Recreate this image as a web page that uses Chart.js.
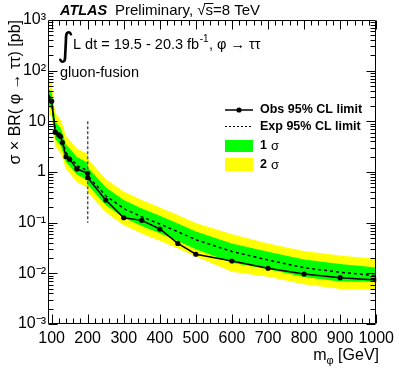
<!DOCTYPE html>
<html><head><meta charset="utf-8">
<script src="https://cdn.jsdelivr.net/npm/chart.js@4.4.1/dist/chart.umd.min.js"></script>
<style>html,body{margin:0;padding:0;background:#fff}canvas{display:block}</style>
</head><body>
<canvas id="c" width="399" height="387"></canvas>
<script>
// ---- data ----
const mass     = [90, 100, 110, 120, 125, 130, 140, 150, 170, 200, 200, 250, 300, 350, 400, 450, 500, 600, 700, 800, 900, 1000];
const observed = [29.8, 25, 6.1, 5.4, 5.0, 3.8, 2.0, 1.78, 1.15, 0.94, 0.77, 0.28, 0.125, 0.111, 0.075, 0.039, 0.0238, 0.0175, 0.0126, 0.0097, 0.0082, 0.0074];
const expected = [31, 26, 6.8, 5.6, 5.0, 4.0, 2.4, 2.0, 1.35, 1.05, 0.85, 0.34, 0.19, 0.13, 0.094, 0.066, 0.046, 0.027, 0.0183, 0.0129, 0.0105, 0.009];
const plus1    = [45.3, 38.0, 9.93, 8.18, 7.3, 5.84, 3.5, 2.92, 1.97, 1.53, 1.24, 0.50, 0.28, 0.19, 0.137, 0.096, 0.067, 0.039, 0.0267, 0.0188, 0.0153, 0.0131];
const minus1   = [20.5, 17.2, 4.49, 3.70, 3.3, 2.64, 1.58, 1.32, 0.89, 0.69, 0.56, 0.224, 0.125, 0.086, 0.062, 0.0436, 0.030, 0.0162, 0.0121, 0.0085, 0.0069, 0.0068];
const plus2    = [66.7, 55.9, 14.6, 12.0, 10.75, 8.6, 5.16, 4.3, 2.9, 2.26, 1.83, 0.73, 0.41, 0.28, 0.20, 0.142, 0.099, 0.059, 0.039, 0.0277, 0.0226, 0.0192];
const minus2   = [14.6, 12.2, 3.20, 2.63, 2.35, 1.88, 1.13, 0.94, 0.635, 0.49, 0.40, 0.16, 0.089, 0.061, 0.044, 0.031, 0.0216, 0.0108, 0.0086, 0.0061, 0.0049, 0.0048];
const separatorMass  = [200, 200];
const separatorRange = [10, 0.1];
const xTickValues = [100, 200, 300, 400, 500, 600, 700, 800, 900, 1000];
const xTickLabels = ['100', '200', '300', '400', '500', '600', '700', '800', '900', '1000'];
const yTickValues = [1e-3, 1e-2, 1e-1, 1, 10, 100, 1000];
const yTickLabels = ['10\u207B\u00B3', '10\u207B\u00B2', '10\u207B\u00B9', '1', '10', '10\u00B2', '10\u00B3'];

const FONT = "'Liberation Sans', Arial, Helvetica, sans-serif";
const pts = ys => mass.map((m, i) => ({x: m, y: ys[i]}));
const band = (ys, color, fill) => ({data: pts(ys), borderWidth: 1, borderColor: 'rgba(0,0,0,0)',
  backgroundColor: color, pointRadius: 0, fill: fill, tension: 0});

const decorations = {
  id: 'decorations',
  afterDatasetsDraw(chart) {
    const {ctx, chartArea: a, scales: {x, y}} = chart;
    ctx.save();
    ctx.strokeStyle = '#000';
    ctx.lineWidth = 1;
    const L = Math.round(a.left) + 0.5, R = Math.round(a.right) - 0.5;
    const T = Math.round(a.top) + 0.5, B = Math.round(a.bottom) - 0.5;
    ctx.beginPath();
    ctx.rect(L, T, R - L, B - T);
    for (let v = 100; v <= 1000; v += 20) {
      const px = Math.round(x.getPixelForValue(v)) + 0.5;
      const len = (v % 100 === 0) ? 9 : 5;
      ctx.moveTo(px, B); ctx.lineTo(px, B - len);
      ctx.moveTo(px, T); ctx.lineTo(px, T + len);
    }
    for (let d = -3; d <= 2; d++) {
      for (let k = 1; k <= 9; k++) {
        const v = k * Math.pow(10, d);
        const py = Math.round(y.getPixelForValue(v)) + 0.5;
        const len = (k === 1) ? 9 : 5;
        ctx.moveTo(L, py); ctx.lineTo(L + len, py);
        ctx.moveTo(R, py); ctx.lineTo(R - len, py);
      }
    }
    ctx.stroke();
    ctx.restore();
  },
  afterDraw(chart) {
    const {ctx} = chart;
    ctx.save();
    ctx.fillStyle = '#000';
    ctx.textBaseline = 'alphabetic';
    // header
    ctx.font = 'italic bold 14.5px ' + FONT;
    ctx.fillText('ATLAS', 60, 15);
    ctx.font = '15px ' + FONT;
    const pre = 'Preliminary, \u221A';
    ctx.fillText(pre + 's=8 TeV', 115, 15);
    const w0 = ctx.measureText(pre).width, ws = ctx.measureText('s').width;
    ctx.fillRect(115 + w0 - 1, 3, ws + 1.5, 1);
    // luminosity line
    ctx.font = '33px DejaVu Sans, sans-serif';
    ctx.fillText('\u222B', 57, 56);
    ctx.font = '14.5px ' + FONT;
    let xx = 73;
    const t1 = 'L dt = 19.5 - 20.3 fb';
    ctx.fillText(t1, xx, 49); xx += ctx.measureText(t1).width;
    ctx.font = '10px ' + FONT;
    ctx.fillText('-1', xx + 0.5, 42); xx += ctx.measureText('-1').width + 1;
    ctx.font = '14.5px ' + FONT;
    ctx.fillText(', \u03C6 \u2192 \u03C4\u03C4', xx, 49);
    ctx.fillText('gluon-fusion', 60, 77);
    // legend
    ctx.lineWidth = 1.5;
    ctx.strokeStyle = '#000';
    ctx.beginPath(); ctx.moveTo(225, 110); ctx.lineTo(253, 110); ctx.stroke();
    ctx.beginPath(); ctx.arc(239, 110, 2.6, 0, 2 * Math.PI); ctx.fill();
    ctx.setLineDash([2, 2]); ctx.lineWidth = 1;
    ctx.beginPath(); ctx.moveTo(225, 126.5); ctx.lineTo(253, 126.5); ctx.stroke();
    ctx.setLineDash([]);
    ctx.fillStyle = '#00ff00'; ctx.fillRect(225, 140, 28, 12);
    ctx.fillStyle = '#ffff00'; ctx.fillRect(225, 158, 28, 13);
    ctx.fillStyle = '#000';
    ctx.textBaseline = 'middle';
    ctx.font = 'bold 12.5px ' + FONT;
    ctx.fillText('Obs 95% CL limit', 260, 110);
    ctx.fillText('Exp 95% CL limit', 260, 127);
    ctx.fillText('1', 260, 146);
    ctx.fillText('2', 260, 165);
    ctx.font = '13px ' + FONT;
    ctx.fillText('\u03C3', 271, 146);
    ctx.fillText('\u03C3', 271, 165);
    // y title
    ctx.save();
    ctx.translate(20, 20);
    ctx.rotate(-Math.PI / 2);
    ctx.textAlign = 'right';
    ctx.textBaseline = 'alphabetic';
    ctx.font = '16px ' + FONT;
    ctx.fillText('\u03C3 \u00D7 BR( \u03C6 \u2192 \u03C4\u03C4) [pb]', 0, 0);
    ctx.restore();
    // x title
    ctx.textBaseline = 'alphabetic';
    ctx.textAlign = 'left';
    ctx.font = '16px ' + FONT;
    const tail = ' [GeV]';
    const wt = ctx.measureText(tail).width, wm = ctx.measureText('m').width;
    ctx.font = '11px ' + FONT;
    const wp = ctx.measureText('\u03C6').width;
    let x0 = 379 - wt - wp - wm;
    ctx.font = '16px ' + FONT;
    ctx.fillText('m', x0, 360);
    ctx.font = '11px ' + FONT;
    ctx.fillText('\u03C6', x0 + wm, 364);
    ctx.font = '16px ' + FONT;
    ctx.fillText(tail, x0 + wm + wp, 360);
    ctx.restore();
  }
};

new Chart(document.getElementById('c'), {
  type: 'line',
  data: {
    datasets: [
      {label: 'Obs 95% CL limit', data: pts(observed), borderColor: '#000', backgroundColor: '#000',
       borderWidth: 1.5, pointRadius: 2.6, pointBorderWidth: 0, fill: false, tension: 0},
      {label: 'Exp 95% CL limit', data: pts(expected), borderColor: '#000', borderDash: [3, 3],
       borderWidth: 1.5, pointRadius: 0, fill: false, tension: 0},
      {label: 'separator', data: separatorMass.map((m, i) => ({x: m, y: separatorRange[i]})),
       borderColor: '#555', borderDash: [3, 2], borderWidth: 1.5, pointRadius: 0, fill: false},
      band(plus1, '#00ff00', '+1'),
      band(minus1, 'rgba(0,0,0,0)', false),
      band(plus2, '#ffff00', '+1'),
      band(minus2, 'rgba(0,0,0,0)', false)
    ]
  },
  options: {
    responsive: false,
    animation: false,
    devicePixelRatio: 1,
    layout: {padding: {top: 20, right: 20, left: 0, bottom: 0}},
    plugins: {
      legend: {display: false},
      tooltip: {enabled: false},
      filler: {drawTime: 'beforeDatasetsDraw'}
    },
    scales: {
      x: {
        type: 'linear', min: 90, max: 1000,
        grid: {display: false, drawTicks: false},
        border: {display: false},
        afterBuildTicks: s => { s.ticks = xTickValues.map(v => ({value: v})); },
        afterFit: s => { s.height = 63; },
        ticks: {
          autoSkip: false, maxRotation: 0, padding: 5, color: '#000',
          font: {family: FONT, size: 16},
          callback: (v) => { const i = xTickValues.indexOf(v); return i >= 0 ? xTickLabels[i] : ''; }
        }
      },
      y: {
        type: 'logarithmic', min: 1e-3, max: 1e3,
        grid: {display: false, drawTicks: false},
        border: {display: false},
        afterBuildTicks: s => { s.ticks = yTickValues.map(v => ({value: v})); },
        afterFit: s => { s.width = 48; },
        ticks: {
          autoSkip: false, padding: 2, color: '#000',
          font: {family: FONT, size: 16},
          callback: (v) => { const i = yTickValues.findIndex(t => Math.abs(t - v) / t < 1e-6); return i >= 0 ? yTickLabels[i] : ''; }
        }
      }
    }
  },
  plugins: [decorations]
});
</script>
</body></html>
